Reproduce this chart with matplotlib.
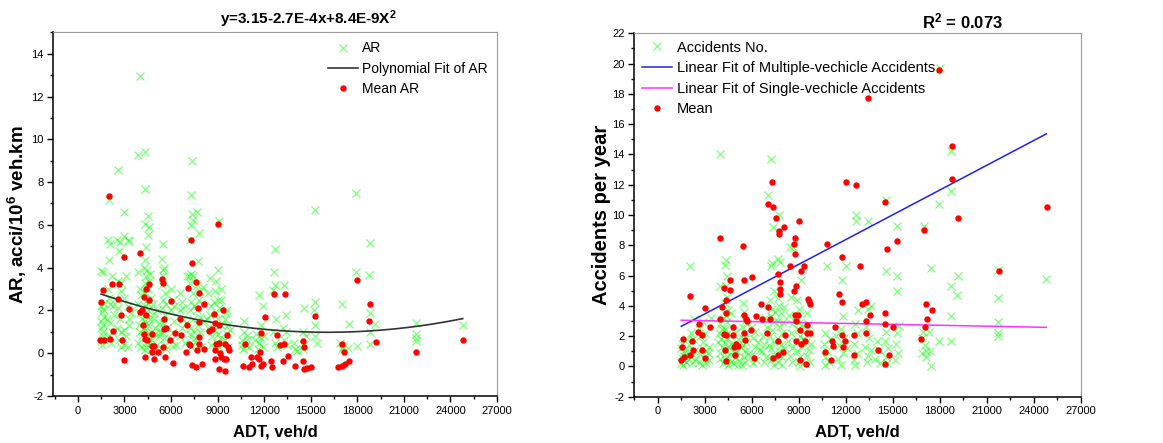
import numpy as np
import matplotlib
matplotlib.use('Agg')
import matplotlib.pyplot as plt
from matplotlib.ticker import MultipleLocator

params = {'font.family': 'Liberation Sans',
          'mathtext.fontset': 'custom',
          'mathtext.rm': 'Liberation Sans',
          'mathtext.bf': 'Liberation Sans:bold',
          'mathtext.default': 'bf',
          'axes.unicode_minus': False,
          'xtick.labelsize': 8,
          'ytick.labelsize': 8,
          'legend.fontsize': 10.5}
plt.rcParams.update(params)

# ---- left panel: accident rate vs ADT ----
ar_x = [1500, 1600, 1500, 1650, 1550, 1700, 1500, 1650, 1600, 1500, 1700, 1550, 1650, 1500, 1700,
        2000, 1950, 2050, 2000, 2200, 2100, 2000, 2250, 1900, 2100, 2200, 2000, 2150, 2300, 1950,
        2600, 2550, 2700, 2650, 2600, 2750, 2600, 2700, 2500, 2800, 2650, 2750, 2550, 2800,
        3000, 3000, 3200, 3300, 3100, 3000, 3200, 3300, 3000, 3100, 3000, 3300, 3200, 3400,
        3900, 4000, 3900, 4000, 4050, 3900, 4000, 4100, 3950, 4000, 4100, 3900, 4050, 4100,
        4350, 4300, 4300, 4400, 4350, 4450, 4400, 4300, 4500, 4350, 4450, 4300, 4500, 4400, 4300,
        4500, 4350, 4450, 4300, 4500, 4400, 4350, 4550, 4600, 4550, 4650, 4600, 4700, 4650, 4700,
        4600, 4700, 4250, 4550, 4250,
        4850, 4900, 4950, 5000, 4800, 5100, 5200, 5000, 4900, 5200, 5100, 5300,
        5500, 5450, 5550, 5500, 5400, 5600, 5500, 5450, 5600, 5500, 5400, 5550, 5600, 5700, 5750,
        5650, 5500,
        6000, 6100, 6000, 6200, 6100, 6000, 6300, 6200, 6100,
        6600, 6700, 6550, 6800, 6700, 6600, 6900, 6800, 7000, 6950,
        7350, 7300, 7350, 7400, 7300, 7200, 7300, 7400, 7250, 7400, 7300, 7200, 7400, 7300, 7200,
        7400, 7300, 7500, 7450, 7150,
        7700, 7800, 7750, 7700, 7850, 7800, 7700, 7900, 7750, 7850, 7700, 7950, 8000, 8100, 8050,
        8500, 8400, 8600, 8500, 8400, 8650, 8550, 8300,
        9100, 9000, 8900, 8850, 9000, 8800, 9100, 8900, 9000, 9200, 8850, 9050, 9150, 8950, 9100,
        9250, 9200,
        9600, 9500, 9700, 9600, 9500, 9700, 9550, 9800,
        10700, 10600, 10800, 10650, 10900, 11000, 10700, 10600, 10900,
        11700, 11900, 11800, 11500, 11700, 11900, 12000, 11600, 11400, 11800,
        12700, 12650, 12700, 12600, 12750, 12600, 12700, 12800,
        13300, 13400, 13200, 13300, 13500, 13400,
        14000, 14100, 13900,
        14600, 14500, 14700, 14600, 14500,
        15300, 15300, 15200, 15300, 15250, 15400,
        17000, 16900, 17100, 17000, 17500, 17400,
        17950, 17950, 18000,
        18800, 18750, 18800, 18800, 18850, 19150,
        21800, 21800, 21800, 21800, 24800]
ar_y = [3.85, 3.8, 2.2, 2.05, 1.95, 2.3, 1.2, 1.0, 0.8, 0.55, 0.6, 0.4, 1.3, 1.5, 1.7,
        7.15, 5.3, 5.1, 4.35, 3.6, 2.3, 2.6, 2.2, 1.6, 1.4, 1.0, 0.8, 0.5, 1.8, 3.0,
        8.55, 5.3, 5.2, 4.8, 3.4, 2.9, 2.1, 1.6, 1.2, 1.0, 0.6, 0.3, 2.5, 3.3,
        6.6, 5.5, 5.3, 5.25, 3.6, 2.6, 2.2, 1.6, 1.1, 0.8, 0.4, 1.3, 0.3, 1.9,
        9.25, 12.95, 3.8, 3.0, 2.7, 2.3, 1.9, 1.6, 1.3, 1.0, 0.8, 0.5, 0.3, 2.1,
        9.42, 7.7, 6.05, 4.95, 4.35, 3.9, 3.6, 3.3, 3.0, 2.8, 2.5, 2.2, 2.0, 1.8, 1.5,
        1.3, 1.1, 0.9, 0.7, 0.5, 0.3, 0.15, 6.4, 5.9, 5.55, 3.7, 3.4, 2.6, 1.6, 1.0,
        0.6, 0.2, 4.0, 2.3, 1.2,
        2.3, 1.6, 1.2, 0.9, 0.6, 0.4, 0.8, 0.2, 1.9, 1.4, 2.0, 1.0,
        5.1, 4.4, 4.0, 3.6, 3.2, 2.8, 2.5, 2.1, 1.8, 1.4, 1.0, 0.7, 0.4, 2.3, 1.2,
        0.2, 3.9,
        3.0, 2.5, 2.0, 1.5, 1.0, 0.6, 0.4, 2.2, 0.35,
        2.8, 2.4, 2.0, 1.6, 1.2, 0.8, 0.5, 2.1, 3.6, 1.4,
        9.0, 7.4, 6.5, 6.25, 6.0, 5.3, 3.7, 3.6, 3.3, 2.8, 2.4, 2.0, 1.6, 1.2, 0.9,
        0.6, 0.3, 2.2, 1.0, 3.6,
        6.6, 5.6, 4.3, 3.2, 2.9, 2.5, 2.0, 1.7, 1.3, 1.0, 0.6, 0.3, 2.3, 1.5, 3.1,
        3.5, 2.8, 2.2, 1.8, 1.2, 0.8, 0.4, 1.6,
        6.2, 3.9, 3.4, 2.9, 2.5, 2.4, 2.1, 1.9, 1.6, 1.3, 1.1, 0.9, 0.7, 0.5, 0.3,
        3.0, 2.5,
        2.0, 1.6, 1.3, 0.9, 0.6, 0.3, 1.9, 1.1,
        1.5, 0.6, 0.4, 0.2, 0.8, 0.3, 1.0, 0.4, 0.6,
        2.7, 2.2, 1.3, 0.9, 0.5, 0.3, 0.8, 0.2, 0.6, 0.7,
        4.85, 3.8, 3.2, 2.95, 1.6, 1.0, 0.5, 0.3,
        3.2, 1.8, 1.2, 0.6, 0.4, 1.0,
        0.2, 0.1, 0.5,
        2.1, 1.0, 0.8, 0.4, 0.2,
        6.7, 2.4, 2.0, 1.3, 0.8, 0.5,
        2.3, 0.5, 0.3, 0.2, 1.35, 0.25,
        7.5, 3.8, 0.35,
        5.15, 3.65, 1.9, 1.0, 0.45, 1.35,
        1.4, 0.9, 0.7, 0.55, 1.3]

mean_ar_x = [1442, 1658, 1485, 1615, 2000, 2045, 2218, 2260, 2562, 2648, 2777, 2820, 2993, 2993,
             3294, 3983, 3983, 4134, 4200, 4240, 4285, 4328, 4328, 4370, 4413, 4457, 4586, 4607,
             4780, 4800, 4800, 4887, 4930, 5189, 5404, 5469, 5490, 5533, 5576, 5619, 5684, 5964,
             6007, 6136, 6265, 6610, 6653, 6997, 7040, 7083, 7148, 7256, 7320, 7342, 7385, 7579,
             7643, 7686, 7730, 7773, 7773, 7816, 7816, 7988, 8095, 8117, 8462, 8634, 8763, 8806,
             8806, 8850, 8914, 9043, 9064, 9064, 9107, 9128, 9193, 9322, 9408, 9451, 9494, 9537,
             9623, 9688, 9731, 10614, 10786, 11044, 11130, 11238, 11518, 11668, 11733, 11776,
             11776, 11905, 12034, 12465, 12508, 12638, 12853, 13026, 13241, 13284, 13370, 13542,
             14016, 14490, 14533, 14555, 14576, 14791, 15050, 15308, 16772, 16987, 16987, 17159,
             17224, 17482, 17978, 18753, 18796, 19184, 21768, 24804]
mean_ar_y = [0.6, 0.62, 2.4, 2.95, 7.35, 0.67, 3.23, 1.06, 2.53, 3.25, 1.8, 0.64, 4.5, -0.31,
             2.08, 4.7, 1.92, 2.0, 1.33, 0.9, 2.62, 0.67, -0.19, 3.0, 1.77, 0.6, 3.25, 2.47,
             0.9, 0.36, 0.05, -0.27, 0.36, 0.05, 3.48, 3.28, 0.28, 1.6, 1.14, -0.19, 1.19, 0.6,
             2.42, -0.47, 0.97, 1.6, 0.83, 0.05, 1.3, 3.06, 0.44, 0.39, 5.28, 4.22, -0.55, 3.33,
             -0.63, 0.13, 2.13, 2.8, 1.45, 0.75, 0.44, -0.5, 2.28, 0.2, 1.06, 1.14, 1.84, 1.41,
             0.13, -0.27, 0.44, 6.06, 0.47, -0.73, 1.3, 0.0, -0.19, 2.0, -0.27, -0.81, 0.44, -0.27,
             0.83, 0.28, 0.13, -0.58, 0.44, -0.66, -0.19, -0.5, -0.19, -0.27, 0.05, 0.94,
             -0.58, -0.5, 1.69, -0.34, -0.66, 2.78, 0.86, 0.39, -0.34, 0.44, 2.78, -0.11,
             -0.61, -0.34, 0.56, 0.28, -0.73, -0.7, -0.66, 1.73, -0.63, 0.44, -0.59, 0.05,
             -0.5, -0.34, 3.44, 1.5, 2.28, 0.52, 0.05, 0.6]

# y = 3.15 - 2.7E-4 x + 8.4E-9 x^2
poly_coef = [8.4e-9, -2.7e-4, 3.15]
poly_xrange = [1500, 24800]

# ---- right panel: accidents per year vs ADT ----
acc_x = [1500, 1600, 1700, 1500, 1800, 1650, 1550, 1750, 1900, 1600, 1850, 1700,
         2050, 2200, 2100, 2300, 2000, 2250, 2150, 2300, 2100, 2400,
         2600, 2700, 2800, 2900, 2700, 2600, 3000, 3100, 3200, 3300, 3400, 2900, 3100, 3000, 2800, 3300,
         4000, 3950, 4000, 3900, 4050, 4100, 3950, 4000, 4150, 4100, 3850, 4200,
         4350, 4300, 4400, 4350, 4400, 4300, 4500, 4350, 4450, 4300, 4500, 4400, 4300, 4500, 4350,
         4450, 4300, 4500, 4600, 4650, 4600, 4700, 4650,
         4800, 4900, 5000, 4850, 5100, 5200, 5000, 4900, 5300, 5100,
         5450, 5500, 5550, 5400, 5600, 5500, 5450, 5600, 5500, 5550, 5700, 5750, 5650, 5400,
         6000, 6100, 6200, 6000, 6300, 6100, 6400, 6200, 6500,
         6700, 6800, 6650, 6900, 6750, 7000, 6850,
         7050, 7250, 7350, 7300, 7250, 7150, 7300, 7200, 7400, 7300, 7150, 7400, 7250, 7350, 7200,
         7400, 7500, 7450, 7100,
         7750, 7700, 7800, 7650, 7750, 7850, 7700, 7800, 7900, 7650, 7850, 7750, 7900, 7700, 8000,
         8100, 8050, 7950,
         8450, 8650, 8500, 8400, 8600, 8500, 8300, 8600, 8450, 8550,
         9150, 8900, 9000, 8850, 9100, 8950, 9050, 8800, 9200, 8900, 9100, 9000, 9050, 9300, 9250,
         9500, 9600, 9700, 9450, 9650, 9550, 9700, 9800,
         10800, 10700, 10600, 10800, 10650, 10900, 11000, 10700,
         11750, 12000, 11800, 11700, 11900, 11600, 11800, 11500, 11700, 12050, 11400,
         12650, 12650, 12800, 12600, 12700, 12500, 12750, 12550, 12600,
         13400, 13400, 13600, 13300, 13500, 13250, 13450, 13350, 13600,
         14000, 14100, 13900, 14200,
         14600, 14550, 14600, 14500, 14700, 14550, 14650,
         15300, 15300, 15250, 15300, 15200, 15350, 15150, 15400,
         17000, 16900, 17050, 16850, 17100, 16950, 17150,
         17450, 17400, 17450, 17300,
         17950, 17950, 18000,
         18750, 18750, 18700, 18750, 18750, 19150, 19100,
         21750, 21750, 21750, 21750, 21750, 24800]
acc_y = [0.2, 0.5, 0.9, 1.2, 0.3, 0.7, 1.5, 1.1, 0.6, 0.1, 1.8, 0.4,
         6.65, 0.2, 0.6, 1.0, 1.4, 1.8, 2.2, 3.1, 0.9, 0.4,
         0.3, 0.8, 1.2, 1.6, 2.0, 2.5, 0.5, 0.2, 0.9, 1.3, 3.2, 2.9, 1.0, 2.2, 0.1, 0.4,
         14.0, 5.3, 2.8, 2.2, 1.8, 1.3, 0.9, 0.5, 0.2, 2.5, 1.6, 3.2,
         7.0, 6.7, 6.0, 5.3, 4.6, 4.2, 3.7, 3.3, 2.9, 2.5, 2.2, 1.9, 1.6, 1.3, 1.0,
         0.7, 0.4, 0.1, 2.0, 1.5, 0.8, 0.3, 3.5,
         0.2, 0.6, 1.0, 1.4, 1.8, 0.4, 2.3, 0.9, 1.2, 0.1,
         4.2, 3.6, 3.0, 2.6, 2.2, 1.8, 1.4, 1.0, 0.6, 0.3, 2.8, 0.8, 1.6, 0.1,
         2.6, 1.9, 1.3, 0.8, 0.4, 0.2, 1.6, 2.3, 1.1,
         2.0, 1.5, 1.0, 0.6, 0.3, 2.6, 3.2,
         11.3, 13.7, 9.2, 6.8, 6.6, 4.4, 3.8, 3.3, 2.9, 2.4, 2.0, 1.6, 1.2, 0.8, 0.4,
         0.1, 3.6, 5.0, 1.4,
         10.0, 7.1, 6.9, 4.5, 4.0, 3.5, 3.0, 2.6, 2.2, 1.8, 1.4, 1.0, 0.6, 0.3, 2.9,
         1.2, 3.9, 0.1,
         7.9, 7.9, 4.6, 3.4, 2.8, 2.2, 1.7, 1.2, 0.7, 0.3,
         5.7, 4.4, 3.8, 3.3, 2.9, 2.5, 2.0, 1.6, 1.3, 1.0, 0.6, 0.3, 0.0, 1.8, 2.6,
         3.5, 2.8, 2.2, 1.6, 1.1, 0.7, 0.3, 1.5,
         6.6, 2.2, 1.5, 1.0, 0.6, 0.3, 1.8, 0.1,
         5.7, 6.6, 3.3, 2.5, 1.9, 1.4, 0.9, 0.5, 0.1, 1.2, 2.0,
         10.0, 9.6, 3.7, 2.8, 2.2, 1.5, 0.9, 0.4, 0.1,
         9.6, 3.8, 4.0, 2.6, 1.9, 1.3, 0.7, 0.3, 1.1,
         1.7, 1.1, 0.5, 0.2,
         11.0, 6.3, 2.3, 1.7, 1.2, 0.6, 0.2,
         9.3, 6.0, 5.0, 2.2, 1.5, 0.9, 0.4, 2.7,
         9.3, 1.9, 1.4, 0.9, 0.6, 2.3, 1.0,
         6.5, 1.0, 0.0, 2.3,
         10.7, 1.7, 19.7,
         14.2, 11.6, 5.3, 3.3, 1.7, 6.0, 4.7,
         6.35, 4.5, 2.9, 2.2, 2.0, 5.75]

mean_acc_x = [1494, 1515, 1600, 1643, 2027, 2070, 2198, 2241, 2561, 2625, 2796, 2838, 3009, 3009,
              3308, 4000, 4000, 4118, 4204, 4247, 4290, 4332, 4375, 4375, 4375, 4588, 4588, 4800,
              4800, 4844, 4908, 4972, 5143, 5442, 5485, 5506, 5527, 5570, 5612, 5698, 5932, 5996,
              6124, 6252, 6594, 6636, 6977, 7042, 7064, 7192, 7320, 7362, 7362, 7576, 7661, 7682,
              7704, 7746, 7746, 7789, 7789, 7789, 8003, 8088, 8109, 8472, 8685, 8771, 8771, 8813,
              8685, 8771, 8813, 8856, 8984, 9027, 9069, 9091, 9112, 9155, 9325, 9368, 9453, 9496,
              9539, 9581, 9624, 9709, 9709, 10670, 10819, 11032, 11117, 11203, 11288, 11587,
              11758, 11758, 11758, 11800, 11971, 12013, 12504, 12546, 12674, 12888, 13058, 13272,
              13272, 13272, 13400, 13570, 14040, 14532, 14532, 14532, 14532, 14617, 14788, 15001,
              15300, 16795, 17008, 17051, 17136, 17179, 17478, 17947, 18801, 18801, 19142, 21767,
              24819]
mean_acc_y = [0.4, 1.28, 1.83, 0.62, 4.63, 0.73, 1.68, 1.1, 2.27, 2.82, 2.05, 1.1, 3.88, 0.57,
              2.6, 8.51, 3.15, 3.92, 2.16, 5.2, 1.1, 2.05, 3.53, 0.35, 4.4, 5.73, 5.03, 2.6,
              2.05, 1.28, 0.73, 1.5, 1.32, 7.94, 5.73, 3.37, 2.2, 1.72, 3.15, 3.0, 2.43, 5.9,
              0.57, 3.3, 4.1, 3.15, 2.2, 3.92, 10.7, 3.15, 12.19, 10.54, 0.57, 9.77, 0.73, 6.08,
              1.68, 8.77, 8.95, 5.58, 5.14, 4.8, 0.95, 9.2, 2.05, 6.64, 8.11, 8.51, 7.4, 5.34,
              4.98, 3.37, 3.0, 1.68, 3.37, 9.61, 2.43, 0.4, 1.5, 6.3, 6.64, 1.68, 0.18, 2.71,
              2.2, 4.48, 4.3, 4.1, 2.2, 0.95, 8.11, 0.4, 1.68, 1.32, 2.6, 4.8,
              7.23, 2.05, 4.25, 1.28, 1.68, 12.19, 2.05, 0.73, 11.97, 6.64, 4.1, 4.25,
              3.0, 2.2, 17.7, 3.37, 1.1, 10.87, 3.53, 2.78, 0.18, 7.78, 0.73, 2.6,
              8.29, 1.83, 9.04, 2.6, 4.1, 3.15, 3.7, 19.58, 14.57, 12.37, 9.77, 6.28,
              10.54]

fit_x = [1500, 24800]
multi_fit_y = [2.65, 15.35]
single_fit_y = [3.05, 2.58]

green = '#00ff00'
fig = plt.figure(figsize=(11.63, 4.43), dpi=100)
ax1 = fig.add_axes([0.0456, 0.106, 0.3817, 0.821])
ax2 = fig.add_axes([0.5454, 0.1045, 0.3838, 0.8205])


def style_axes(ax, xlim, ylim):
    ax.set_xlim(*xlim)
    ax.set_ylim(*ylim)
    ax.xaxis.set_major_locator(MultipleLocator(3000))
    ax.xaxis.set_minor_locator(MultipleLocator(1500))
    ax.yaxis.set_major_locator(MultipleLocator(2))
    ax.yaxis.set_minor_locator(MultipleLocator(1))
    ax.tick_params(which='major', direction='out', length=4, width=1, pad=3)
    ax.tick_params(which='minor', direction='out', length=2.5, width=1)
    for s in ['top', 'right']:
        ax.spines[s].set_color('#9a9a9a')
    for s in ['left', 'bottom']:
        ax.spines[s].set_color('black')
        ax.spines[s].set_linewidth(1.1)
    ax.set_xlabel('ADT, veh/d', fontsize=12, fontweight='bold', labelpad=6)


# left
ax1.plot(ar_x, ar_y, 'x', color=green, alpha=0.5, ms=6, mew=0.9, label='AR')
px = np.linspace(poly_xrange[0], poly_xrange[1], 200)
ax1.plot(px, np.polyval(poly_coef, px), color='#333333', lw=1.2, label='Polynomial Fit of AR')
ax1.plot(mean_ar_x, mean_ar_y, 'o', color='red', ms=4.6, mec='none', label='Mean AR')
style_axes(ax1, (-1600, 27000), (-2, 15))
ax1.set_ylabel('AR, acci/10$^6$ veh.km', fontsize=13.5, fontweight='bold', labelpad=1)
ax1.legend(loc='upper right', frameon=False, borderaxespad=0.25, handlelength=2.2,
           handletextpad=0.3, labelspacing=0.45, fontsize=10)
fig.text(0.265, 0.932, 'y=3.15-2.7E-4x+8.4E-9X$^2$', ha='center', va='bottom',
         fontsize=11, fontweight='bold')

# right
ax2.plot(acc_x, acc_y, 'x', color=green, alpha=0.5, ms=6, mew=0.9, label='Accidents No.')
ax2.plot(fit_x, multi_fit_y, color='#2020ee', lw=1.1, label='Linear Fit of Multiple-vechicle Accidents')
ax2.plot(fit_x, single_fit_y, color='#ff33ff', lw=1.1, label='Linear Fit of Single-vechicle Accidents')
ax2.plot(mean_acc_x, mean_acc_y, 'o', color='red', ms=4.6, mec='none', label='Mean')
style_axes(ax2, (-1500, 27000), (-2, 22))
ax2.set_ylabel('Accidents per year', fontsize=14.5, fontweight='bold', labelpad=1)
ax2.legend(loc='upper left', frameon=False, borderaxespad=0.1, handlelength=2.1,
           handletextpad=0.3, labelspacing=0.45)
fig.text(0.828, 0.93, 'R$^2$ = 0.073', ha='center', va='bottom', fontsize=12, fontweight='bold')

plt.savefig('out.png', dpi=100)
